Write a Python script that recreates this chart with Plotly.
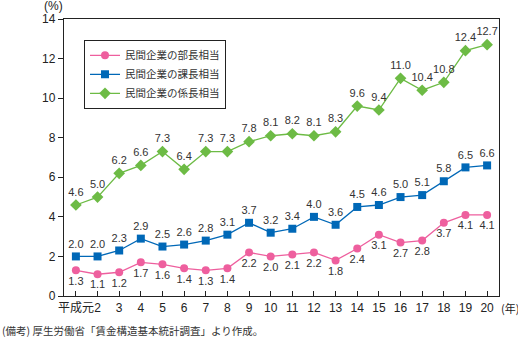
import plotly.graph_objects as go

years = ["平成元", "2", "3", "4", "5", "6", "7", "8", "9", "10",
         "11", "12", "13", "14", "15", "16", "17", "18", "19", "20"]
bucho = [1.3, 1.1, 1.2, 1.7, 1.6, 1.4, 1.3, 1.4, 2.2, 2.0,
         2.1, 2.2, 1.8, 2.4, 3.1, 2.7, 2.8, 3.7, 4.1, 4.1]
kacho = [2.0, 2.0, 2.3, 2.9, 2.5, 2.6, 2.8, 3.1, 3.7, 3.2,
         3.4, 4.0, 3.6, 4.5, 4.6, 5.0, 5.1, 5.8, 6.5, 6.6]
kakaricho = [4.6, 5.0, 6.2, 6.6, 7.3, 6.4, 7.3, 7.3, 7.8, 8.1,
             8.2, 8.1, 8.3, 9.6, 9.4, 11.0, 10.4, 10.8, 12.4, 12.7]
names = ["民間企業の部長相当", "民間企業の課長相当", "民間企業の係長相当"]

x = list(range(len(years)))
FONT = "Liberation Sans, Arial, Noto Sans CJK JP, sans-serif"
JP = "Noto Sans CJK JP, sans-serif"
txtfont = dict(family=FONT, size=11, color="#333")

fig = go.Figure()
fig.add_trace(go.Scatter(
    x=x, y=bucho, name=names[0], mode="lines+markers+text",
    line=dict(color="#EE5F9E", width=1.3),
    marker=dict(symbol="circle", size=8, color="#EE5F9E"),
    text=[f"{v:.1f}" for v in bucho], textposition="bottom center",
    textfont=txtfont, cliponaxis=False))
fig.add_trace(go.Scatter(
    x=x, y=kacho, name=names[1], mode="lines+markers+text",
    line=dict(color="#0068B7", width=1.3),
    marker=dict(symbol="square", size=8, color="#0068B7"),
    text=[f"{v:.1f}" for v in kacho], textposition="top center",
    textfont=txtfont, cliponaxis=False))
fig.add_trace(go.Scatter(
    x=x, y=kakaricho, name=names[2], mode="lines+markers+text",
    line=dict(color="#6DBB45", width=1.3),
    marker=dict(symbol="diamond", size=9, color="#6DBB45"),
    text=[f"{v:.1f}" for v in kakaricho], textposition="top center",
    textfont=txtfont, cliponaxis=False))

fig.update_layout(
    width=518, height=339,
    margin=dict(l=64, r=19, t=17, b=43),
    paper_bgcolor="white", plot_bgcolor="white",
    showlegend=True,
    legend=dict(x=0.046, y=0.925, xanchor="left", yanchor="top",
                bordercolor="#222", borderwidth=1, bgcolor="white",
                font=dict(family=JP, size=10.5, color="#333"),
                tracegroupgap=0, itemwidth=30),
    xaxis=dict(range=[-0.55, 19.55], tickmode="array", tickvals=x, ticktext=years,
               tickangle=0,
               showline=True, linecolor="#222", linewidth=1.3, mirror=True,
               ticks="inside", ticklen=5, tickcolor="#222", showgrid=False,
               zeroline=False,
               tickfont=dict(family=FONT + ", " + JP, size=12, color="#222")),
    yaxis=dict(range=[0, 14], tickvals=[0, 2, 4, 6, 8, 10, 12, 14],
               showline=True, linecolor="#222", linewidth=1.3, mirror=True,
               ticks="outside", ticklen=5, tickcolor="#222", showgrid=False,
               zeroline=False,
               tickfont=dict(family=FONT, size=12, color="#222")),
    annotations=[
        dict(text="(%)", xref="paper", yref="paper", x=-0.025, y=1.0, yshift=4,
             xanchor="center", yanchor="bottom", showarrow=False,
             font=dict(family=FONT, size=12, color="#222")),
        dict(text="(年)", xref="paper", yref="paper", x=1.0, y=0, yshift=-2,
             xanchor="left", yanchor="top", showarrow=False,
             font=dict(family=JP, size=11, color="#222")),
        dict(text="(備考) 厚生労働省「賃金構造基本統計調査」より作成。", xref="paper", yref="paper",
             x=-0.147, y=0, yshift=-25, xanchor="left", yanchor="top", showarrow=False,
             font=dict(family=JP, size=10.5, color="#333")),
    ],
)

fig.write_html("out.html")
